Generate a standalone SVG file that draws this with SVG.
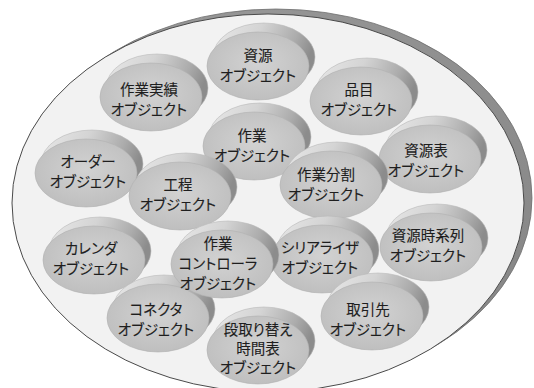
<svg xmlns="http://www.w3.org/2000/svg" xmlns:xlink="http://www.w3.org/1999/xlink" width="534" height="388" viewBox="0 0 534 388">
<style>
.t{font-family:"Noto Sans CJK JP","Noto Sans",sans-serif;font-size:14.5px;font-weight:400;fill:#1e1e1e;stroke:#1e1e1e;stroke-width:0.12;text-anchor:middle;font-feature-settings:"palt";}
</style>
<defs>
<linearGradient id="rim" x1="0" y1="0" x2="1" y2="0.3">
<stop offset="0" stop-color="#e8e8e8"/>
<stop offset="0.45" stop-color="#d4d4d4"/>
<stop offset="0.8" stop-color="#acacac"/>
<stop offset="1" stop-color="#8c8c8c"/>
</linearGradient>
<radialGradient id="face" cx="0.5" cy="0.45" r="0.55">
<stop offset="0" stop-color="#d2d2d2"/>
<stop offset="1" stop-color="#bfbfbf"/>
</radialGradient>
<linearGradient id="band" x1="0" y1="0" x2="1" y2="1">
<stop offset="0" stop-color="#9a9a9a"/>
<stop offset="1" stop-color="#858585"/>
</linearGradient>
<g id="disc">
<ellipse cx="6" cy="-9" rx="51" ry="34" fill="url(#rim)" stroke="#b8b8b8" stroke-width="0.6"/>
<ellipse cx="0" cy="0" rx="51" ry="34" fill="url(#face)" stroke="#b0b0b0" stroke-width="0.6"/>
</g>
</defs>
<g id="plate">
<ellipse cx="276" cy="198" rx="256" ry="189" fill="url(#band)" stroke="#6e6e6e" stroke-width="0.8"/>
<ellipse cx="268" cy="203" rx="256" ry="189" fill="#f2f2f2" stroke="#4a4a4a" stroke-width="1"/>
</g>
<g id="connectors"></g>
<g id="n1"><use xlink:href="#disc" transform="translate(258,66)"/><text class="t" x="258" y="61">資源</text><text class="t" x="258" y="81">オブジェクト</text></g>
<g id="n2"><use xlink:href="#disc" transform="translate(151,97)"/><text class="t" x="149" y="95">作業実績</text><text class="t" x="149" y="115">オブジェクト</text></g>
<g id="n3"><use xlink:href="#disc" transform="translate(361,101)"/><text class="t" x="359" y="95">品目</text><text class="t" x="359" y="115">オブジェクト</text></g>
<g id="n4"><use xlink:href="#disc" transform="translate(254,146)"/><text class="t" x="252" y="141">作業</text><text class="t" x="252" y="161">オブジェクト</text></g>
<g id="n5"><use xlink:href="#disc" transform="translate(430,159)"/><text class="t" x="426" y="156">資源表</text><text class="t" x="426" y="176">オブジェクト</text></g>
<g id="n6"><use xlink:href="#disc" transform="translate(86,173)"/><text class="t" x="88" y="167">オーダー</text><text class="t" x="88" y="187">オブジェクト</text></g>
<g id="n7"><use xlink:href="#disc" transform="translate(331,185)"/><text class="t" x="326" y="180">作業分割</text><text class="t" x="326" y="200">オブジェクト</text></g>
<g id="n8"><use xlink:href="#disc" transform="translate(180,196)"/><text class="t" x="178" y="190">工程</text><text class="t" x="178" y="210">オブジェクト</text></g>
<g id="n9"><use xlink:href="#disc" transform="translate(431,247)"/><text class="t" x="428" y="241">資源時系列</text><text class="t" x="428" y="261">オブジェクト</text></g>
<g id="n10"><use xlink:href="#disc" transform="translate(322,259)"/><text class="t" x="320" y="253">シリアライザ</text><text class="t" x="320" y="273">オブジェクト</text></g>
<g id="n11"><use xlink:href="#disc" transform="translate(94,260)"/><text class="t" x="91" y="254">カレンダ</text><text class="t" x="91" y="274">オブジェクト</text></g>
<g id="n13"><use xlink:href="#disc" transform="translate(372,316)"/><text class="t" x="368" y="315">取引先</text><text class="t" x="368" y="335">オブジェクト</text></g>
<g id="n14"><use xlink:href="#disc" transform="translate(158,318)"/><text class="t" x="156" y="315">コネクタ</text><text class="t" x="156" y="335">オブジェクト</text></g>
<g id="n12"><use xlink:href="#disc" transform="translate(222,264)"/><text class="t" x="218" y="249">作業</text><text class="t" x="218" y="269">コントローラ</text><text class="t" x="218" y="289">オブジェクト</text></g>
<g id="n15"><use xlink:href="#disc" transform="translate(258,350)"/><text class="t" x="258" y="335">段取り替え</text><text class="t" x="258" y="354">時間表</text><text class="t" x="258" y="373">オブジェクト</text></g>
</svg>
